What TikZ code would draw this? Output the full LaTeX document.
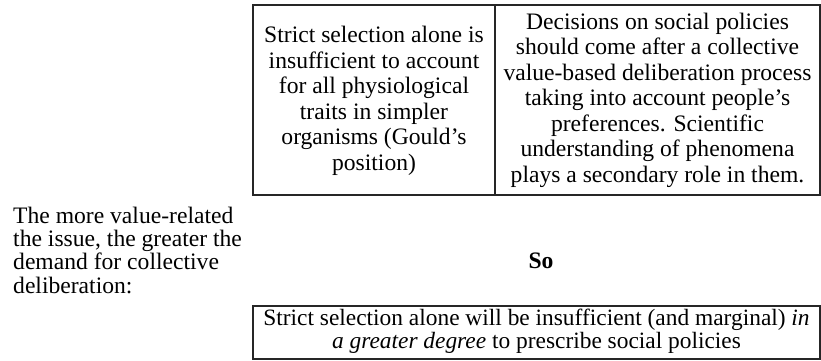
\documentclass[tikz,border=0pt]{standalone}
\usepackage{fontspec}
\setmainfont{Liberation Serif}
\tikzset{
  frame/.style={draw=black!85, line width=1.2pt},
  cell/.style={inner sep=0pt, align=center, font=\fontsize{23.6}{25.5}\selectfont},
  para/.style={inner sep=0pt, align=left, font=\fontsize{23.6}{23.2}\selectfont},
  concl/.style={inner sep=0pt, align=center, font=\fontsize{23.4}{22.8}\selectfont}
}
\begin{document}
\begin{tikzpicture}[x=1pt,y=-1pt]
\useasboundingbox (0,0) rectangle (821,361);
% table
\coordinate (tl) at (253,5);
\coordinate (br) at (820,195);
\coordinate (mt) at (495,5);
\coordinate (mb) at (495,195);
\draw[frame] (tl) rectangle (br);
\draw[frame] (mt) -- (mb);
\node[cell] (c1) at (374,101) {Strict selection alone is\\insufficient to account\\for all physiological\\traits in simpler\\organisms (Gould’s\\position)};
\node[cell] (c2) at (657.5,100) {Decisions on social policies\\should come after a collective\\value-based deliberation process\\taking into account people’s\\preferences. Scientific\\understanding of phenomena\\plays a secondary role in them.};
\node[para, anchor=north west] (p) at (13,207) {The more value-related\\the issue, the greater the\\demand for collective\\deliberation:};
\node[inner sep=0pt, font=\fontsize{23.6}{25}\selectfont\bfseries] (so) at (541,261) {So};
\coordinate (bl) at (253,306);
\coordinate (bb) at (820,359);
\draw[frame] (bl) rectangle (bb);
\node[concl] (c3) at (536.5,331) {Strict selection alone will be insufficient (and marginal) \textit{in}\\\textit{a greater degree} to prescribe social policies};
\end{tikzpicture}
\end{document}
